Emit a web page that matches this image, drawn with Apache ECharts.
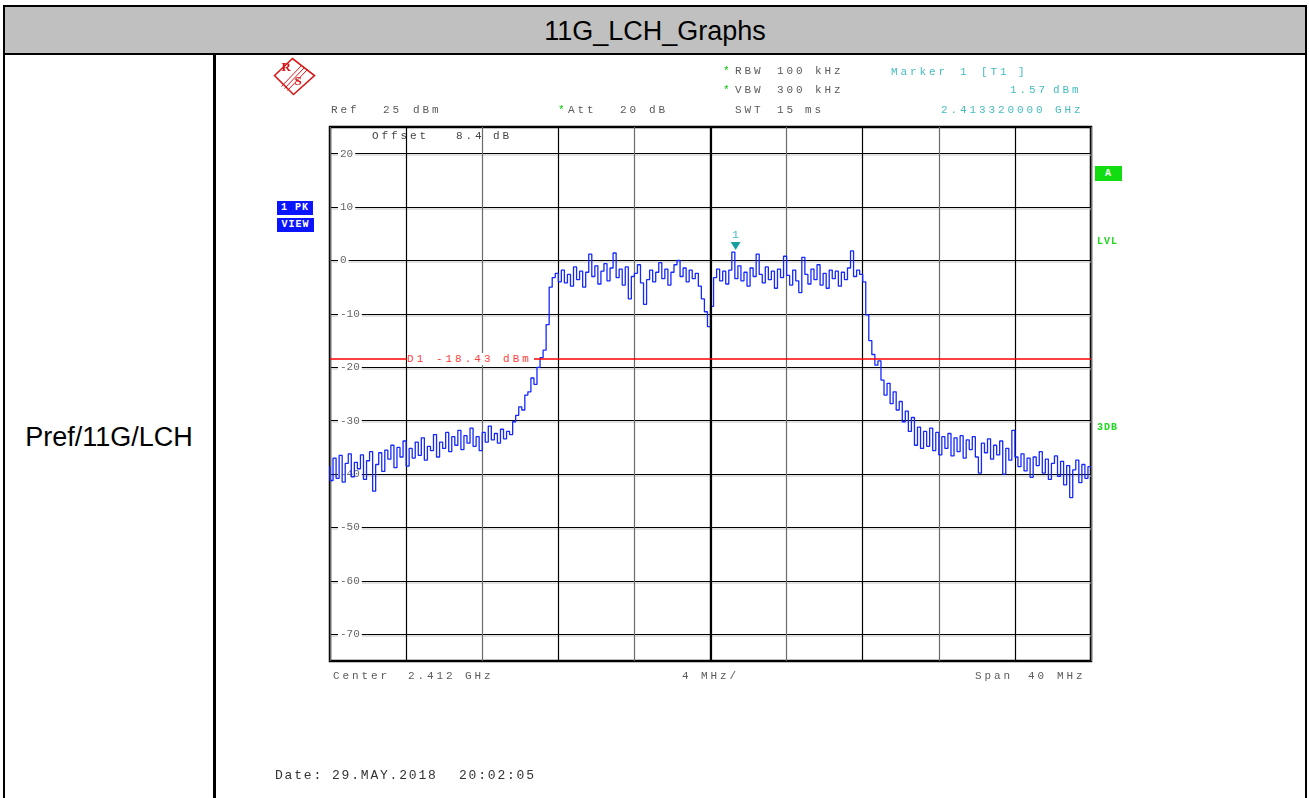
<!DOCTYPE html>
<html>
<head>
<meta charset="utf-8">
<script src="https://cdn.jsdelivr.net/npm/echarts@6/dist/echarts.min.js"></script>
<style>
  html, body { margin: 0; padding: 0; background: #fff; }
  body { width: 1309px; height: 798px; position: relative; overflow: hidden; }
  .cell-line { position: absolute; background: #000; }
  #header {
    position: absolute; left: 3px; top: 5px; width: 1304px; height: 50px;
    box-sizing: border-box; border: 2px solid #000; background: #c0c0c0;
    font: 27px "Liberation Sans", Arial, sans-serif; color: #000;
    text-align: center; line-height: 48px;
  }
  #rowTitle {
    position: absolute; left: 5px; width: 208px; top: 422px;
    font: 27px "Liberation Sans", Arial, sans-serif; text-align: center;
  }
  #chart { position: absolute; left: 0; top: 0; width: 1309px; height: 798px; z-index: 1; }
  .txt {
    position: absolute; z-index: 2; white-space: pre; line-height: 12px;
    font: 11px "Liberation Mono", monospace; letter-spacing: 2.9px; color: #5a5a5a;
  }
  .box {
    position: absolute; z-index: 2; color: #fff; text-align: center;
    font: bold 10px "Liberation Mono", monospace; letter-spacing: 1px;
  }
</style>
</head>
<body>
<div id="header">11G_LCH_Graphs</div>
<div class="cell-line" style="left:3px;top:55px;width:2px;height:743px"></div>
<div class="cell-line" style="left:213px;top:55px;width:3px;height:743px"></div>
<div class="cell-line" style="left:1305px;top:55px;width:2px;height:743px"></div>
<div id="rowTitle">Pref/11G/LCH</div>
<div id="chart"></div>
<div id="overlay"></div>

<script>
// sweep: 2.392 .. 2.432 GHz (center 2.412 GHz, span 40 MHz), 251 trace points
const startMHz = 2392
const stepMHz = 0.16
const xTicks = [2392, 2432, 4]          // min, max, MHz per division
const yTicks = [-75, 25]                // bottom, ref level (dBm)
const d1Level = -18.43
const marker1 = [2413.32, 1.57]

const traceDbm = [
  -38.5, -41.2, -37.0, -40.8, -36.5, -41.5, -38.0, -36.2, -40.5, -37.8,
  -39.0, -36.4, -41.0, -37.5, -35.8, -43.2, -38.2, -36.0, -39.5, -35.5,
  -37.2, -34.6, -38.8, -35.0, -36.8, -33.8, -38.5, -35.2, -37.0, -34.0,
  -36.5, -33.2, -37.4, -34.8, -35.6, -32.6, -36.8, -34.0, -35.2, -32.2,
  -35.8, -33.0, -34.6, -31.8, -35.4, -32.8, -34.2, -31.4, -34.8, -33.0,
  -35.6, -32.2, -34.0, -31.0, -33.6, -32.4, -34.2, -31.6, -33.4, -32.0,
  -32.6, -30.2, -29.0, -27.4, -28.0, -25.2, -24.6, -22.0, -23.2, -20.0,
  -18.2, -16.8, -12.0, -5.0, -3.2, -2.4, -4.0, -1.8, -4.2, -2.6,
  -4.8, -1.2, -3.6, -2.0, -5.0, -2.2, 1.2, -3.0, -1.0, -4.4,
  -2.0, -0.6, -3.8, -1.4, 1.4, -3.2, -1.6, -4.6, -1.2, -7.2,
  -3.0, -2.4, -0.8, -4.2, -8.2, -3.6, -1.8, -4.0, -2.2, -0.4,
  -3.4, -1.6, -4.6, -2.2, -0.8, 0.0, -3.0, -1.4, -4.0, -1.8,
  -3.4, -2.4, -4.8, -7.2, -9.6, -12.4, -8.6, -3.2, -1.6, -3.8,
  -2.0, -4.4, -1.8, 1.57, -3.4, -1.0, -3.8, -2.2, -4.8, -1.4,
  -3.0, 1.2, -2.6, -4.2, -1.2, -3.6, -2.0, -5.2, -1.6, -3.2,
  0.8, -2.8, -4.6, -1.8, -3.8, -6.0, 0.6, -2.6, -4.4, -1.6,
  -3.6, -0.8, -4.6, -2.4, -5.2, -1.8, -3.4, -2.0, -4.8, -2.2,
  -3.6, -1.4, 1.8, -3.0, -1.8, -2.6, -4.0, -10.2, -15.0, -17.6,
  -19.6, -18.8, -22.4, -25.2, -23.0, -26.8, -24.6, -28.0, -26.4, -30.2,
  -28.2, -32.0, -29.4, -34.6, -31.2, -35.2, -32.0, -34.8, -31.4, -35.6,
  -32.2, -36.4, -33.0, -35.2, -32.4, -36.6, -33.2, -35.8, -32.8, -37.0,
  -33.6, -35.4, -33.0, -36.8, -39.8, -34.2, -36.0, -33.4, -37.2, -34.6,
  -36.4, -33.8, -40.0, -35.2, -37.4, -31.8, -36.8, -38.6, -36.2, -39.4,
  -37.0, -40.6, -36.8, -38.4, -35.8, -39.8, -37.2, -41.0, -38.0, -36.6,
  -40.4, -37.6, -42.0, -38.4, -44.4, -39.2, -37.4, -41.6, -38.2, -40.8, -38.6
]

const tracePoints = traceDbm.map((v, i) => [startMHz + i * stepMHz, v])

// instrument annotations: text, x, y(center), colour
const GRAY = '#5a5a5a'
const TEAL = '#45bdbd'
const GREEN = '#00cc00'
const annotations = [
  ['Ref', 331, 110, GRAY], ['25', 383, 110, GRAY], ['dBm', 413, 110, GRAY],
  ['*', 558, 110, GREEN], ['Att', 568, 110, GRAY], ['20', 620, 110, GRAY], ['dB', 649, 110, GRAY],
  ['*', 723, 71, GREEN], ['RBW', 735, 71, GRAY], ['100', 777, 71, GRAY], ['kHz', 815, 71, GRAY],
  ['*', 723, 90, GREEN], ['VBW', 735, 90, GRAY], ['300', 777, 90, GRAY], ['kHz', 815, 90, GRAY],
  ['SWT', 735, 110, GRAY], ['15', 777, 110, GRAY], ['ms', 805, 110, GRAY],
  ['Marker', 891, 72, TEAL], ['1', 960, 72, TEAL], ['[T1', 981, 72, TEAL], [']', 1018, 72, TEAL],
  ['1.57', 1010, 90, TEAL], ['dBm', 1053, 90, TEAL],
  ['2.413320000', 941, 110, TEAL], ['GHz', 1055, 110, TEAL],
  ['Offset', 372, 136, '#444'], ['8.4', 456, 136, '#444'], ['dB', 493, 136, '#444'],
  ['Center', 333, 676, GRAY], ['2.412', 408, 676, GRAY], ['GHz', 465, 676, GRAY],
  ['4', 682, 676, GRAY], ['MHz/', 701, 676, GRAY],
  ['Span', 975, 676, GRAY], ['40', 1028, 676, GRAY], ['MHz', 1057, 676, GRAY]
]
const dateParts = [['Date:', 275], ['29.MAY.2018', 332], ['20:02:05', 459]]

const overlay = document.getElementById('overlay')
function addText (t, x, y, color, extra) {
  const s = document.createElement('span')
  s.className = 'txt'
  s.textContent = t
  s.style.left = x + 'px'
  s.style.top = (y - 6) + 'px'
  s.style.color = color
  if (extra) Object.assign(s.style, extra)
  overlay.appendChild(s)
  return s
}
annotations.forEach(a => addText(a[0], a[1], a[2], a[3]))
dateParts.forEach(d => addText(d[0], d[1], 776, '#333', { font: '13px "Liberation Mono", monospace', letterSpacing: '1.8px', lineHeight: '14px', top: '769px' }))

function addBox (t, x, y, w, h, bg, color) {
  const b = document.createElement('div')
  b.className = 'box'
  b.textContent = t
  Object.assign(b.style, { left: x + 'px', top: y + 'px', width: w + 'px', height: h + 'px', lineHeight: h + 'px', background: bg, color: color })
  overlay.appendChild(b)
}
addBox('1 PK', 277, 201, 36, 14, '#0a14ff', '#fff')
addBox('VIEW', 277, 218, 37, 14, '#0a14ff', '#fff')
addBox('A', 1095, 166, 27, 15, '#11dd11', '#fff')
addText('LVL', 1097, 242, '#22d622', { fontWeight: 'bold', fontSize: '10px', letterSpacing: '1px' })
addText('3DB', 1097, 428, '#22d622', { fontWeight: 'bold', fontSize: '10px', letterSpacing: '1px' })

const chart = echarts.init(document.getElementById('chart'))
const RED = '#d81818'
chart.setOption({
  animation: false,
  grid: { left: 330, top: 127, width: 761, height: 534, show: true, borderColor: '#000', borderWidth: 2.5 },
  xAxis: {
    type: 'value', min: xTicks[0], max: xTicks[1], interval: xTicks[2],
    axisLine: { show: false }, axisTick: { show: false }, axisLabel: { show: false },
    splitLine: { show: true, showMinLine: true, showMaxLine: true, lineStyle: { color: ['#6a6a6a', '#000'], width: 1.2 } }
  },
  yAxis: {
    type: 'value', min: yTicks[0], max: yTicks[1], interval: 5,
    axisLine: { show: false }, axisTick: { show: false },
    axisLabel: {
      inside: true, margin: 8, showMinLabel: false, showMaxLabel: false,
      formatter: v => (v % 10 === 0 ? String(v) : ''),
      color: '#666', fontFamily: 'Liberation Mono', fontSize: 11,
      backgroundColor: '#fff', padding: [1, 2]
    },
    splitLine: {
      show: true, showMinLine: true, showMaxLine: true,
      lineStyle: { color: ['transparent', '#000'], width: 1.2, shadowColor: '#c4c4c4', shadowOffsetY: 1.5 }
    }
  },
  graphic: [
    {
      type: 'group', left: 272, top: 56, z: 10,
      children: [
        { type: 'polygon', shape: { points: [[3, 18], [21, 1], [43, 18], [22, 37]] }, style: { fill: 'none', stroke: RED, lineWidth: 1.6 } },
        { type: 'line', shape: { x1: 10, y1: 29, x2: 30, y2: 8 }, style: { stroke: RED, lineWidth: 1 } },
        { type: 'line', shape: { x1: 13, y1: 31, x2: 33, y2: 10 }, style: { stroke: RED, lineWidth: 1 } },
        { type: 'line', shape: { x1: 16, y1: 33, x2: 36, y2: 12 }, style: { stroke: RED, lineWidth: 1 } },
        { type: 'text', x: 10, y: 4, style: { text: 'R', fill: RED, font: 'bold 13px "Liberation Serif"' } },
        { type: 'text', x: 23, y: 18, style: { text: 'S', fill: RED, font: 'bold 13px "Liberation Serif"' } }
      ]
    }
  ],
  series: [
    {
      type: 'line', data: [], z: 1, silent: true,
      markLine: {
        silent: true, symbol: 'none', animation: false, label: { show: false },
        lineStyle: { type: 'solid', opacity: 1 },
        emphasis: { disabled: true },
        data: [
          { xAxis: 2412, lineStyle: { color: '#000', width: 2.2, type: 'solid' } },
          { yAxis: d1Level, lineStyle: { color: '#ff0000', width: 1.5, type: 'solid' } }
        ]
      }
    },
    {
      type: 'line', data: tracePoints, z: 3, showSymbol: false, silent: true, step: 'start',
      lineStyle: { color: '#1428ff', width: 1.3 },
      markPoint: {
        silent: true,
        symbol: 'triangle', symbolRotate: 180, symbolSize: [10, 8], symbolOffset: [0, -6],
        itemStyle: { color: '#1a9e9e' },
        label: { show: true, position: 'top', distance: 2, formatter: '1', color: '#3bbcbc', fontFamily: 'Liberation Mono', fontSize: 11 },
        data: [{ coord: marker1 }]
      }
    }
  ]
})

// display line label sits on the red line, one division in from the left edge
const p = chart.convertToPixel({ gridIndex: 0 }, [xTicks[0] + xTicks[2], d1Level])
addText('D1 -18.43 dBm', p[0] + 1, p[1], '#ff4040', { background: '#fff', paddingRight: '2px', letterSpacing: '3px' })
</script>
</body>
</html>
